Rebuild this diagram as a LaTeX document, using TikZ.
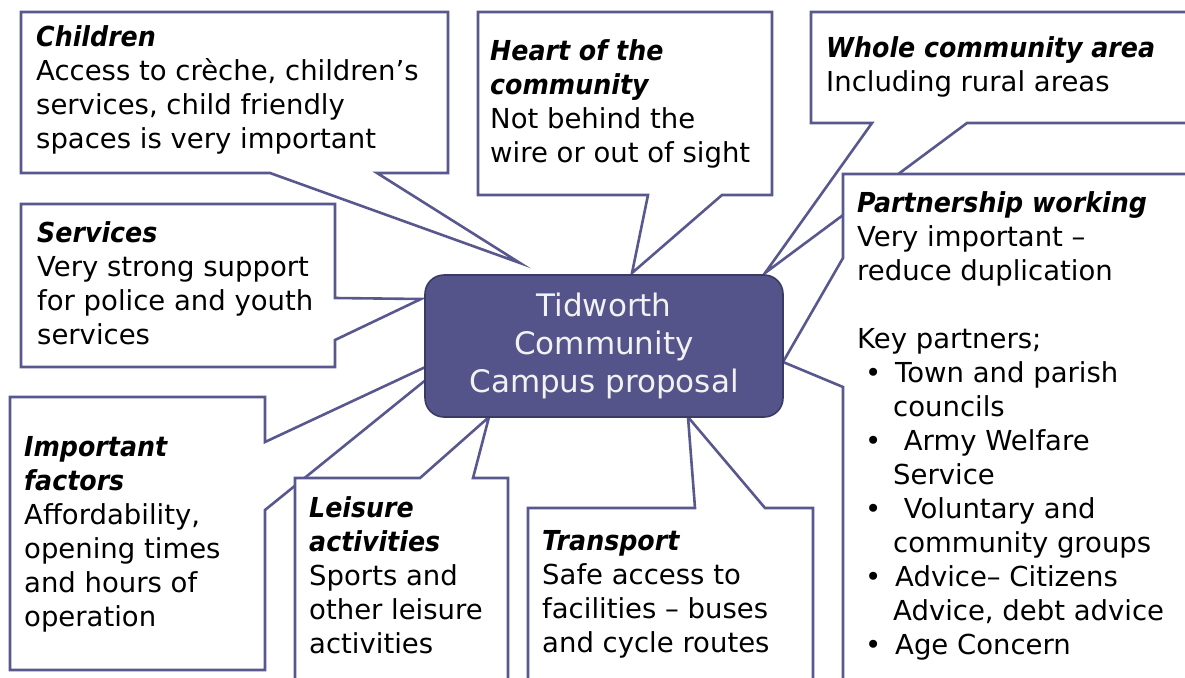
\documentclass[tikz,border=0pt]{standalone}
\usepackage{fontspec}
\setmainfont{DejaVu Sans}
\newfontfamily\headfont{DejaVu Sans}[FakeStretch=0.92]
\definecolor{calloutline}{RGB}{88,88,142}
\definecolor{campusfill}{RGB}{84,84,138}
\definecolor{campusline}{RGB}{58,58,100}
\newcommand\head[1]{{\headfont\bfseries\itshape #1}}
\newcommand\keyitem{\makebox[38pt][l]{\hspace*{8pt}\textbullet}}
\newcommand\keyrest{\hspace*{36pt}}
\begin{document}
\begin{tikzpicture}[x=1pt,y=-1pt,
    callout/.style={draw=calloutline,fill=white,line width=2.6pt},
    calltext/.style={anchor=base west,align=left,inner sep=0pt,font=\fontsize{27.5}{34}\selectfont},
    campus/.style={draw=campusline,fill=campusfill,line width=1.6pt,rounded corners=19pt,
        minimum width=358pt,minimum height=142pt,align=center,text=white!95!black,
        font=\fontsize{31}{38}\selectfont}]
        \clip (0,0) rectangle (1185,677);
        \fill[white] (0,0) rectangle (1185,677);
        % top row (texts placed by their last baseline)
        \draw[callout] (21,12) -- (448,12) -- (448,173) -- (377,173) -- (520,263) -- (270,173) -- (21,173) -- cycle;
        \node[calltext] (children) at (36,148) {\head{Children}\\Access to crèche, children’s\\services, child friendly\\spaces is very important};
        \draw[callout] (478,12) -- (772,12) -- (772,195) -- (722,195) -- (632,273) -- (648,195) -- (478,195) -- cycle;
        \node[calltext] (heart) at (490,162) {\head{Heart of the}\\\head{community}\\Not behind the\\wire or out of sight};
        \draw[callout] (811,12) -- (1200,12) -- (1200,123) -- (967,123) -- (765,273) -- (872,123) -- (811,123) -- cycle;
        \node[calltext] (whole) at (826,91) {\head{Whole community area}\\Including rural areas};
        % right column
        \draw[callout] (843,174) -- (1200,174) -- (1200,700) -- (843,700) -- (843,387) -- (783,362) -- (843,258) -- cycle;
        \node[calltext] (partnership) at (857,654) {\head{Partnership working}\\Very important –\\reduce duplication\\[34pt]Key partners;\\
            \keyitem Town and parish\\\keyrest councils\\\keyitem\ Army Welfare\\\keyrest Service\\
            \keyitem\ Voluntary and\\\keyrest community groups\\\keyitem Advice– Citizens\\\keyrest Advice, debt advice\\\keyitem Age Concern};
        % left column
        \draw[callout] (21,204) -- (335,204) -- (335,298) -- (421,299) -- (335,340) -- (335,367) -- (21,367) -- cycle;
        \node[calltext] (services) at (37,344) {\head{Services}\\Very strong support\\for police and youth\\services};
        \draw[callout] (10,397) -- (265,397) -- (265,442) -- (464,349) -- (265,510) -- (265,670) -- (10,670) -- cycle;
        \node[calltext] (factors) at (24,626) {\head{Important}\\\head{factors}\\Affordability,\\opening times\\and hours of\\operation};
        % bottom row
        \draw[callout] (295,478) -- (420,478) -- (489,417) -- (473,478) -- (508,478) -- (508,700) -- (295,700) -- cycle;
        \node[calltext] (leisure) at (309,653) {\head{Leisure}\\\head{activities}\\Sports and\\other leisure\\activities};
        \draw[callout] (528,508) -- (695,508) -- (688,417) -- (765,508) -- (813,508) -- (813,700) -- (528,700) -- cycle;
        \node[calltext] (transport) at (542,652) {\head{Transport}\\Safe access to\\facilities – buses\\and cycle routes};
        % centre
        \node[campus] (campus) at (604,346) {Tidworth\\Community\\Campus proposal};
\end{tikzpicture}
\end{document}
